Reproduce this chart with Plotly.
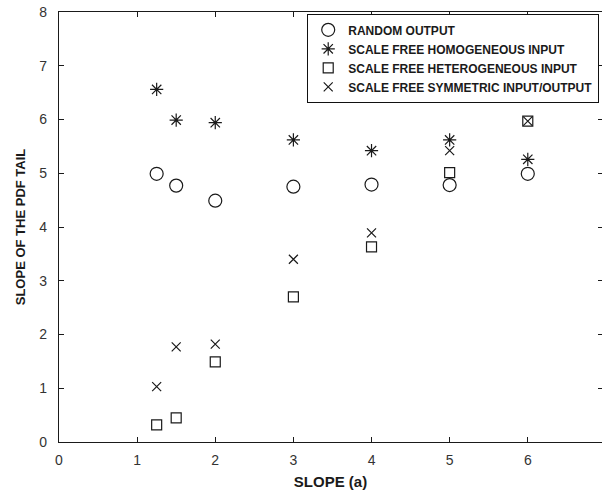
import plotly.graph_objects as go

x_vals = [1.25, 1.5, 2, 3, 4, 5, 6]
random_output = [4.99, 4.77, 4.49, 4.75, 4.79, 4.78, 4.99]
homogeneous_input = [6.56, 5.99, 5.94, 5.62, 5.42, 5.62, 5.26]
heterogeneous_input = [0.32, 0.45, 1.49, 2.70, 3.63, 5.01, 5.97]
symmetric_io = [1.03, 1.77, 1.82, 3.40, 3.89, 5.42, 5.97]
x_ticks = [0, 1, 2, 3, 4, 5, 6, 7]
y_ticks = [0, 1, 2, 3, 4, 5, 6, 7, 8]

FONT = "Liberation Sans, Arial, Helvetica, sans-serif"
INK = "#1a1a1a"

fig = go.Figure()
series = [
    ("RANDOM OUTPUT", random_output, "circle-open", 13),
    ("SCALE FREE HOMOGENEOUS INPUT", homogeneous_input, "asterisk-open", 11),
    ("SCALE FREE HETEROGENEOUS INPUT", heterogeneous_input, "square-open", 10),
    ("SCALE FREE SYMMETRIC INPUT/OUTPUT", symmetric_io, "x-thin-open", 9),
]
for name, vals, sym, size in series:
    fig.add_trace(go.Scatter(
        x=x_vals, y=vals, mode="markers", name=name,
        marker=dict(symbol=sym, size=size, color=INK, line=dict(color=INK, width=1.2)),
    ))

# invisible trace to carry right-side ticks
fig.add_trace(go.Scatter(x=[None], y=[None], yaxis="y2", showlegend=False, hoverinfo="skip"))

fig.update_layout(
    width=602, height=490,
    margin=dict(l=59, r=0, t=12, b=48),
    paper_bgcolor="white", plot_bgcolor="white",
    font=dict(family=FONT, color=INK),
    showlegend=True,
    legend=dict(
        x=0.9945, xanchor="right", y=0.995, yanchor="top",
        bordercolor="#111", borderwidth=1.2, bgcolor="white",
        font=dict(family=FONT, size=12, color=INK, weight="bold"),
        tracegroupgap=0, itemsizing="trace",
    ),
    xaxis=dict(
        range=[0, 6.95], tickvals=x_ticks, ticks="inside", ticklen=5, tickcolor=INK,
        showline=True, linecolor=INK, linewidth=1.2, mirror="ticks",
        showgrid=False, zeroline=False,
        tickfont=dict(family=FONT, size=14, color="#333"),
        ticklabelstandoff=5,
        title=dict(text="SLOPE (a)", font=dict(family=FONT, size=15, color=INK, weight="bold"), standoff=9),
    ),
    yaxis=dict(
        range=[0, 8], tickvals=y_ticks, ticks="inside", ticklen=5, tickcolor=INK,
        showline=True, linecolor=INK, linewidth=1.2, mirror=False,
        showgrid=False, zeroline=False,
        tickfont=dict(family=FONT, size=14, color="#333"),
        ticklabelstandoff=8,
        title=dict(text="SLOPE OF THE PDF TAIL", font=dict(family=FONT, size=13, color=INK, weight="bold"), standoff=10),
    ),
    yaxis2=dict(
        range=[0, 8], tickvals=y_ticks, overlaying="y", side="right",
        ticks="inside", ticklen=4, tickcolor=INK, showticklabels=False,
        showline=False, showgrid=False, zeroline=False,
    ),
)

fig.write_html("out.html")
